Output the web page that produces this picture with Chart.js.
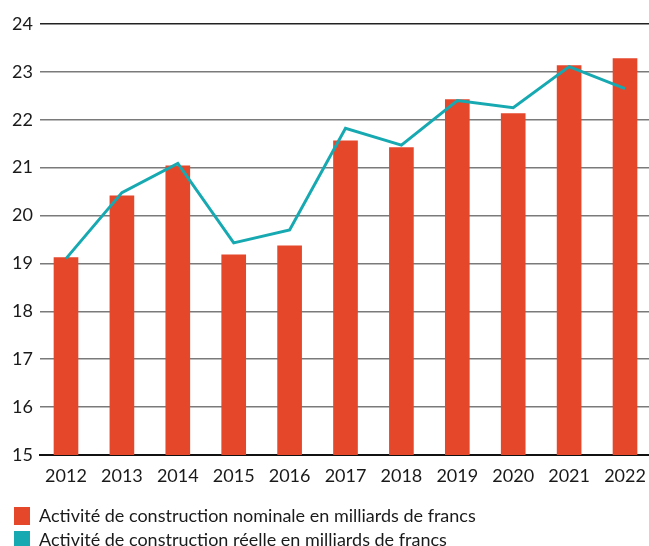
<!DOCTYPE html>
<html><head><meta charset="utf-8">
<script src="https://cdn.jsdelivr.net/npm/chart.js@4/dist/chart.umd.min.js"></script>
<style>html,body{margin:0;padding:0;background:#fff;overflow:hidden}#wrap{width:649px;height:559px;position:relative}</style>
</head><body><div id="wrap"><canvas id="c"></canvas></div>
<script>
const years = ['2012','2013','2014','2015','2016','2017','2018','2019','2020','2021','2022'];
const nominal = [19.12,20.41,21.04,19.18,19.37,21.56,21.42,22.42,22.13,23.13,23.28];
const real = [19.10,20.48,21.09,19.43,19.70,21.82,21.47,22.40,22.25,23.11,22.65];
const yMin = 15, yMax = 24, yStep = 1;
const seriesNames = ['Activité de construction nominale en milliards de francs','Activité de construction réelle en milliards de francs'];
const FONT = 'Lato';
const TXT = '#1a1a1a';

new Chart(document.getElementById('c'), {
  data: {
    datasets: [
      { type: 'bar', label: seriesNames[0], order: 2,
        data: years.map((y,i)=>({x:i, y:nominal[i]})),
        backgroundColor: '#E5472B', barThickness: 24 },
      { type: 'line', label: seriesNames[1], order: 1,
        data: years.map((y,i)=>({x:i, y:real[i]})),
        borderColor: '#17A9B1', backgroundColor: '#17A9B1', borderWidth: 3,
        pointRadius: 0, tension: 0, borderJoinStyle: 'miter' }
    ]
  },
  options: {
    responsive: true, maintainAspectRatio: false, animation: false,
    layout: { padding: { top: 24, right: 0, left: 8, bottom: 0 } },
    scales: {
      x: { type: 'linear', min: -0.465, max: 10.429, offset: false,
        afterFit: s => { s.height = 46; },
        grid: { display: false },
        border: { display: true, color: '#111', width: 2 },
        ticks: { stepSize: 1, includeBounds: false, autoSkip: false, maxRotation: 0,
          color: TXT, font: { family: FONT, size: 18 }, padding: 2,
          callback: v => Number.isInteger(v) ? years[v] : '' } },
      y: { min: yMin, max: yMax,
        afterFit: s => { s.width = 32; },
        grid: { color: ctx => ctx.tick && ctx.tick.value === yMax ? '#222' : '#7a7a7a', lineWidth: 1.5, drawTicks: false },
        border: { display: false },
        ticks: { stepSize: yStep, color: TXT, font: { family: FONT, size: 18 }, padding: 7 } }
    },
    plugins: {
      tooltip: { enabled: false },
      legend: { position: 'bottom', align: 'start',
        labels: { boxWidth: 16, boxHeight: 18, padding: 6, color: TXT,
          font: { family: FONT, size: 18 },
          generateLabels: chart => chart.data.datasets.map((d,i)=>({
            text: d.label, fillStyle: d.type==='bar' ? d.backgroundColor : d.borderColor,
            strokeStyle: 'transparent', lineWidth: 0, hidden: false, datasetIndex: i, fontColor: TXT })) } }
    }
  }
});
</script></body></html>
